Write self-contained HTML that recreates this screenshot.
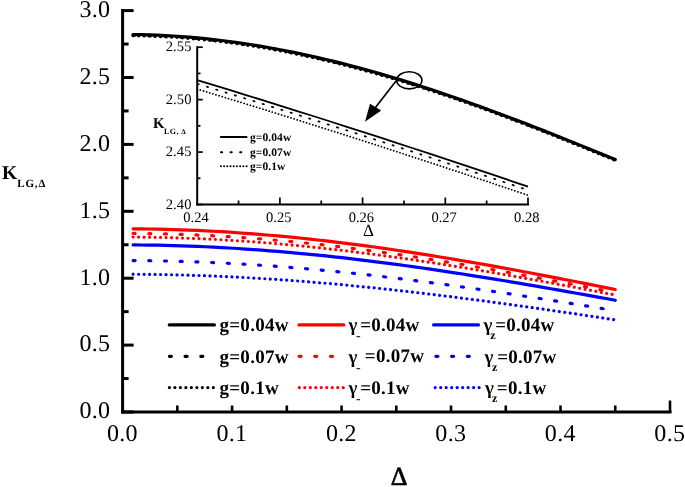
<!DOCTYPE html>
<html lang="en"><head><meta charset="utf-8"><title>K_LG versus Delta</title>
<style>html,body{margin:0;padding:0;background:#fff}body{width:685px;height:487px;overflow:hidden}</style>
</head><body>
<svg width="685" height="487" viewBox="0 0 685 487" style="display:block" text-rendering="geometricPrecision">
<rect width="685" height="487" fill="#fff"/>
<g fill="none" stroke-width="3.2" stroke-linecap="round">
<path d="M133.11,34.49 L141.15,34.63 L149.18,34.86 L157.22,35.17 L165.25,35.55 L173.29,36.02 L181.33,36.57 L189.36,37.20 L197.40,37.90 L205.43,38.69 L213.47,39.55 L221.50,40.49 L229.54,41.51 L237.58,42.61 L245.61,43.78 L253.65,45.02 L261.68,46.34 L269.72,47.73 L277.76,49.20 L285.79,50.73 L293.83,52.34 L301.86,54.02 L309.90,55.76 L317.93,57.57 L325.97,59.45 L334.01,61.39 L342.04,63.40 L350.08,65.47 L358.11,67.60 L366.15,69.80 L374.19,72.05 L382.22,74.36 L390.26,76.72 L398.29,79.14 L406.33,81.61 L414.36,84.14 L422.40,86.71 L430.44,89.34 L438.47,92.01 L446.51,94.72 L454.54,97.49 L462.58,100.29 L470.62,103.14 L478.65,106.02 L486.69,108.94 L494.72,111.90 L502.76,114.90 L510.79,117.92 L518.83,120.98 L526.87,124.07 L534.90,127.19 L542.94,130.33 L550.97,133.50 L559.01,136.69 L567.05,139.91 L575.08,143.14 L583.12,146.39 L591.15,149.66 L599.19,152.94 L607.22,156.24 L615.26,159.55" stroke="#000"/>
<path d="M133.11,35.01 L141.15,35.16 L149.18,35.39 L157.22,35.69 L165.25,36.08 L173.29,36.55 L181.33,37.10 L189.36,37.72 L197.40,38.43 L205.43,39.21 L213.47,40.07 L221.50,41.01 L229.54,42.03 L237.58,43.12 L245.61,44.29 L253.65,45.53 L261.68,46.85 L269.72,48.24 L277.76,49.70 L285.79,51.24 L293.83,52.84 L301.86,54.52 L309.90,56.26 L317.93,58.07 L325.97,59.94 L334.01,61.89 L342.04,63.89 L350.08,65.96 L358.11,68.09 L366.15,70.28 L374.19,72.52 L382.22,74.83 L390.26,77.19 L398.29,79.61 L406.33,82.08 L414.36,84.60 L422.40,87.17 L430.44,89.79 L438.47,92.46 L446.51,95.17 L454.54,97.93 L462.58,100.73 L470.62,103.57 L478.65,106.45 L486.69,109.37 L494.72,112.32 L502.76,115.31 L510.79,118.34 L518.83,121.39 L526.87,124.47 L534.90,127.59 L542.94,130.73 L550.97,133.89 L559.01,137.08 L567.05,140.29 L575.08,143.52 L583.12,146.76 L591.15,150.03 L599.19,153.31 L607.22,156.60 L615.26,159.90" stroke="#000" stroke-dasharray="2 13.7"/>
<path d="M133.11,35.73 L141.15,35.88 L149.18,36.10 L157.22,36.41 L165.25,36.80 L173.29,37.26 L181.33,37.81 L189.36,38.43 L197.40,39.14 L205.43,39.92 L213.47,40.78 L221.50,41.72 L229.54,42.73 L237.58,43.82 L245.61,44.99 L253.65,46.23 L261.68,47.55 L269.72,48.93 L277.76,50.39 L285.79,51.92 L293.83,53.53 L301.86,55.20 L309.90,56.94 L317.93,58.74 L325.97,60.61 L334.01,62.55 L342.04,64.55 L350.08,66.62 L358.11,68.74 L366.15,70.93 L374.19,73.17 L382.22,75.47 L390.26,77.83 L398.29,80.24 L406.33,82.70 L414.36,85.22 L422.40,87.79 L430.44,90.40 L438.47,93.06 L446.51,95.77 L454.54,98.52 L462.58,101.32 L470.62,104.15 L478.65,107.03 L486.69,109.94 L494.72,112.89 L502.76,115.88 L510.79,118.89 L518.83,121.94 L526.87,125.02 L534.90,128.13 L542.94,131.26 L550.97,134.42 L559.01,137.60 L567.05,140.80 L575.08,144.03 L583.12,147.27 L591.15,150.53 L599.19,153.80 L607.22,157.09 L615.26,160.38" stroke="#000" stroke-dasharray="0.01 5.48"/>
<path d="M133.11,228.79 L141.15,228.87 L149.18,228.98 L157.22,229.12 L165.25,229.31 L173.29,229.54 L181.33,229.81 L189.36,230.11 L197.40,230.45 L205.43,230.83 L213.47,231.25 L221.50,231.71 L229.54,232.20 L237.58,232.74 L245.61,233.30 L253.65,233.91 L261.68,234.55 L269.72,235.22 L277.76,235.93 L285.79,236.68 L293.83,237.46 L301.86,238.27 L309.90,239.12 L317.93,240.00 L325.97,240.91 L334.01,241.85 L342.04,242.83 L350.08,243.83 L358.11,244.87 L366.15,245.93 L374.19,247.02 L382.22,248.14 L390.26,249.29 L398.29,250.47 L406.33,251.67 L414.36,252.89 L422.40,254.14 L430.44,255.41 L438.47,256.71 L446.51,258.03 L454.54,259.37 L462.58,260.73 L470.62,262.11 L478.65,263.51 L486.69,264.93 L494.72,266.36 L502.76,267.82 L510.79,269.29 L518.83,270.77 L526.87,272.27 L534.90,273.78 L542.94,275.31 L550.97,276.85 L559.01,278.39 L567.05,279.95 L575.08,281.52 L583.12,283.10 L591.15,284.69 L599.19,286.28 L607.22,287.88 L615.26,289.49" stroke="#f00"/>
<path d="M133.11,233.41 L141.15,233.48 L149.18,233.59 L157.22,233.73 L165.25,233.92 L173.29,234.14 L181.33,234.40 L189.36,234.69 L197.40,235.03 L205.43,235.40 L213.47,235.81 L221.50,236.25 L229.54,236.73 L237.58,237.25 L245.61,237.80 L253.65,238.39 L261.68,239.02 L269.72,239.68 L277.76,240.37 L285.79,241.10 L293.83,241.86 L301.86,242.65 L309.90,243.47 L317.93,244.33 L325.97,245.22 L334.01,246.14 L342.04,247.09 L350.08,248.07 L358.11,249.08 L366.15,250.11 L374.19,251.18 L382.22,252.27 L390.26,253.39 L398.29,254.53 L406.33,255.70 L414.36,256.90 L422.40,258.12 L430.44,259.36 L438.47,260.62 L446.51,261.91 L454.54,263.21 L462.58,264.54 L470.62,265.89 L478.65,267.25 L486.69,268.63 L494.72,270.03 L502.76,271.45 L510.79,272.88 L518.83,274.33 L526.87,275.79 L534.90,277.26 L542.94,278.75 L550.97,280.25 L559.01,281.76 L567.05,283.28 L575.08,284.81 L583.12,286.35 L591.15,287.89 L599.19,289.45 L607.22,291.01 L615.26,292.57" stroke="#f00" stroke-dasharray="2 13.7"/>
<path d="M133.11,237.02 L141.15,237.09 L149.18,237.19 L157.22,237.34 L165.25,237.52 L173.29,237.73 L181.33,237.99 L189.36,238.28 L197.40,238.61 L205.43,238.97 L213.47,239.37 L221.50,239.81 L229.54,240.28 L237.58,240.79 L245.61,241.33 L253.65,241.90 L261.68,242.52 L269.72,243.16 L277.76,243.84 L285.79,244.55 L293.83,245.30 L301.86,246.07 L309.90,246.88 L317.93,247.72 L325.97,248.59 L334.01,249.49 L342.04,250.42 L350.08,251.38 L358.11,252.37 L366.15,253.39 L374.19,254.43 L382.22,255.50 L390.26,256.60 L398.29,257.72 L406.33,258.87 L414.36,260.04 L422.40,261.23 L430.44,262.45 L438.47,263.68 L446.51,264.94 L454.54,266.22 L462.58,267.52 L470.62,268.84 L478.65,270.18 L486.69,271.53 L494.72,272.90 L502.76,274.29 L510.79,275.70 L518.83,277.11 L526.87,278.54 L534.90,279.99 L542.94,281.45 L550.97,282.91 L559.01,284.39 L567.05,285.88 L575.08,287.38 L583.12,288.89 L591.15,290.40 L599.19,291.93 L607.22,293.46 L615.26,294.99" stroke="#f00" stroke-dasharray="0.01 5.48"/>
<path d="M133.11,244.91 L141.15,244.98 L149.18,245.08 L157.22,245.22 L165.25,245.39 L173.29,245.59 L181.33,245.84 L189.36,246.11 L197.40,246.43 L205.43,246.77 L213.47,247.16 L221.50,247.57 L229.54,248.02 L237.58,248.51 L245.61,249.03 L253.65,249.58 L261.68,250.16 L269.72,250.78 L277.76,251.43 L285.79,252.11 L293.83,252.82 L301.86,253.56 L309.90,254.33 L317.93,255.13 L325.97,255.96 L334.01,256.82 L342.04,257.71 L350.08,258.63 L358.11,259.57 L366.15,260.54 L374.19,261.54 L382.22,262.56 L390.26,263.61 L398.29,264.68 L406.33,265.77 L414.36,266.89 L422.40,268.03 L430.44,269.19 L438.47,270.37 L446.51,271.58 L454.54,272.80 L462.58,274.04 L470.62,275.30 L478.65,276.58 L486.69,277.87 L494.72,279.18 L502.76,280.50 L510.79,281.84 L518.83,283.20 L526.87,284.56 L534.90,285.94 L542.94,287.34 L550.97,288.74 L559.01,290.15 L567.05,291.57 L575.08,293.00 L583.12,294.44 L591.15,295.89 L599.19,297.34 L607.22,298.80 L615.26,300.27" stroke="#00f"/>
<path d="M133.11,260.57 L141.15,260.62 L149.18,260.72 L157.22,260.84 L165.25,260.99 L173.29,261.18 L181.33,261.40 L189.36,261.65 L197.40,261.94 L205.43,262.25 L213.47,262.60 L221.50,262.98 L229.54,263.38 L237.58,263.82 L245.61,264.29 L253.65,264.79 L261.68,265.32 L269.72,265.88 L277.76,266.47 L285.79,267.08 L293.83,267.73 L301.86,268.40 L309.90,269.10 L317.93,269.83 L325.97,270.58 L334.01,271.36 L342.04,272.17 L350.08,273.00 L358.11,273.85 L366.15,274.73 L374.19,275.63 L382.22,276.56 L390.26,277.51 L398.29,278.48 L406.33,279.47 L414.36,280.48 L422.40,281.52 L430.44,282.57 L438.47,283.64 L446.51,284.73 L454.54,285.84 L462.58,286.96 L470.62,288.10 L478.65,289.26 L486.69,290.43 L494.72,291.62 L502.76,292.82 L510.79,294.04 L518.83,295.26 L526.87,296.50 L534.90,297.75 L542.94,299.01 L550.97,300.28 L559.01,301.56 L567.05,302.85 L575.08,304.15 L583.12,305.46 L591.15,306.77 L599.19,308.08 L607.22,309.41 L615.26,310.73" stroke="#00f" stroke-dasharray="2 13.7"/>
<path d="M133.11,274.21 L141.15,274.26 L149.18,274.35 L157.22,274.46 L165.25,274.60 L173.29,274.77 L181.33,274.97 L189.36,275.20 L197.40,275.46 L205.43,275.75 L213.47,276.06 L221.50,276.40 L229.54,276.78 L237.58,277.17 L245.61,277.60 L253.65,278.06 L261.68,278.54 L269.72,279.05 L277.76,279.58 L285.79,280.14 L293.83,280.73 L301.86,281.34 L309.90,281.98 L317.93,282.64 L325.97,283.32 L334.01,284.03 L342.04,284.77 L350.08,285.52 L358.11,286.30 L366.15,287.10 L374.19,287.92 L382.22,288.76 L390.26,289.63 L398.29,290.51 L406.33,291.41 L414.36,292.33 L422.40,293.27 L430.44,294.23 L438.47,295.21 L446.51,296.20 L454.54,297.21 L462.58,298.23 L470.62,299.27 L478.65,300.32 L486.69,301.39 L494.72,302.47 L502.76,303.56 L510.79,304.67 L518.83,305.78 L526.87,306.91 L534.90,308.05 L542.94,309.19 L550.97,310.35 L559.01,311.52 L567.05,312.69 L575.08,313.87 L583.12,315.06 L591.15,316.25 L599.19,317.45 L607.22,318.65 L615.26,319.86" stroke="#00f" stroke-dasharray="0.01 5.48"/>
</g>
<g stroke="#000" stroke-width="3" fill="none">
<path d="M122.6,9.1 V413.5"/>
<path d="M121.1,412.0 H671.5"/>
<path d="M122.6,412.00 h11.0"/>
<path d="M122.6,378.55 h6.0"/>
<path d="M122.6,345.10 h11.0"/>
<path d="M122.6,311.65 h6.0"/>
<path d="M122.6,278.20 h11.0"/>
<path d="M122.6,244.75 h6.0"/>
<path d="M122.6,211.30 h11.0"/>
<path d="M122.6,177.85 h6.0"/>
<path d="M122.6,144.40 h11.0"/>
<path d="M122.6,110.95 h6.0"/>
<path d="M122.6,77.50 h11.0"/>
<path d="M122.6,44.05 h6.0"/>
<path d="M122.6,10.60 h11.0"/>
</g>
<g stroke="#000" stroke-width="2.6" fill="none">
<path d="M177.34,412.0 v-6.5"/>
<path d="M232.08,412.0 v-6.5"/>
<path d="M286.82,412.0 v-6.5"/>
<path d="M341.56,412.0 v-6.5"/>
<path d="M396.30,412.0 v-6.5"/>
<path d="M451.04,412.0 v-6.5"/>
<path d="M505.78,412.0 v-6.5"/>
<path d="M560.52,412.0 v-6.5"/>
<path d="M615.26,412.0 v-6.5"/>
<path d="M670.00,412.0 v-11.5"/>
</g>
<g font-family="'Liberation Serif', 'DejaVu Serif', serif" font-size="24" letter-spacing="0.3" fill="#000">
<text x="110.3" y="418.3" text-anchor="end">0.0</text>
<text x="110.3" y="351.4" text-anchor="end">0.5</text>
<text x="110.3" y="284.5" text-anchor="end">1.0</text>
<text x="110.3" y="217.6" text-anchor="end">1.5</text>
<text x="110.3" y="150.7" text-anchor="end">2.0</text>
<text x="110.3" y="83.8" text-anchor="end">2.5</text>
<text x="110.3" y="16.9" text-anchor="end">3.0</text>
<text x="122.4" y="441.2" text-anchor="middle">0.0</text>
<text x="231.9" y="441.2" text-anchor="middle">0.1</text>
<text x="341.4" y="441.2" text-anchor="middle">0.2</text>
<text x="450.8" y="441.2" text-anchor="middle">0.3</text>
<text x="560.3" y="441.2" text-anchor="middle">0.4</text>
<text x="669.8" y="441.2" text-anchor="middle">0.5</text>
</g>
<g font-family="'Liberation Serif', 'DejaVu Serif', serif" font-weight="bold" fill="#000">
<text x="2" y="179.4" font-size="19.5">K<tspan font-size="11" dy="7.6" letter-spacing="0.9">LG,Δ</tspan></text>
<text x="399.0" y="484.8" font-size="26" font-weight="normal" stroke="#000" stroke-width="0.7" text-anchor="middle">Δ</text>
</g>
<g fill="none" stroke-width="3.2" stroke-linecap="round">
<path d="M169.3,324.9 H214.4" stroke="#000"/>
<path d="M169.4,356.3 H202.9" stroke="#000" stroke-dasharray="2 13.7"/>
<path d="M169.4,387.6 H213.60000000000002" stroke="#000" stroke-dasharray="0.01 5.48"/>
<path d="M299.0,324.9 H343.9" stroke="#f00"/>
<path d="M299.1,356.3 H332.6" stroke="#f00" stroke-dasharray="2 13.7"/>
<path d="M299.3,387.6 H343.5" stroke="#f00" stroke-dasharray="0.01 5.48"/>
<path d="M433.6,324.9 H478.5" stroke="#00f"/>
<path d="M435.9,356.3 H469.4" stroke="#00f" stroke-dasharray="2 13.7"/>
<path d="M435.2,387.6 H479.4" stroke="#00f" stroke-dasharray="0.01 5.48"/>
</g>
<g font-family="'Liberation Serif', 'DejaVu Serif', serif" font-weight="bold" font-size="19" letter-spacing="0.27" fill="#000">
<text x="219.5" y="330.8">g=0.04w</text>
<text y="330.8"><tspan x="348.5">γ</tspan><tspan x="356.1" dy="9.1" font-size="14" font-weight="normal">-</tspan><tspan x="360.2" dy="-9.3">=0.04w</tspan></text>
<text y="330.8"><tspan x="483.6">γ</tspan><tspan x="490.3" dy="8" font-size="12">z</tspan><tspan x="495.2" dy="-8">=0.04w</tspan></text>
<text x="219.5" y="362.6">g=0.07w</text>
<text y="362.6"><tspan x="348.5">γ</tspan><tspan x="356.1" dy="9.1" font-size="14" font-weight="normal">-</tspan><tspan x="364.8" dy="-9.3">=0.07w</tspan></text>
<text y="362.6"><tspan x="484.6">γ</tspan><tspan x="492" dy="8" font-size="12">z</tspan><tspan x="497.2" dy="-8">=0.07w</tspan></text>
<text x="219.5" y="393.9">g=0.1w</text>
<text y="393.9"><tspan x="348.5">γ</tspan><tspan x="356.1" dy="9.1" font-size="14" font-weight="normal">-</tspan><tspan x="360.2" dy="-9.3">=0.1w</tspan></text>
<text y="393.9"><tspan x="485">γ</tspan><tspan x="492" dy="8" font-size="12">z</tspan><tspan x="496.8" dy="-8">=0.1w</tspan></text>
</g>
<g fill="none" stroke="#000" stroke-width="1.8">
<path d="M197.20,80.10 L213.74,85.13 L230.28,90.20 L246.82,95.30 L263.36,100.43 L279.90,105.59 L296.44,110.78 L312.98,116.01 L329.52,121.26 L346.06,126.55 L362.60,131.86 L379.14,137.21 L395.68,142.58 L412.22,147.99 L428.76,153.42 L445.30,158.89 L461.84,164.38 L478.38,169.90 L494.92,175.45 L511.46,181.03 L528.00,186.63"/>
<path d="M197.20,83.79 L213.74,88.82 L230.28,93.88 L246.82,98.97 L263.36,104.10 L279.90,109.25 L296.44,114.44 L312.98,119.65 L329.52,124.90 L346.06,130.18 L362.60,135.49 L379.14,140.83 L395.68,146.19 L412.22,151.59 L428.76,157.02 L445.30,162.47 L461.84,167.96 L478.38,173.47 L494.92,179.01 L511.46,184.58 L528.00,190.18" stroke-dasharray="1.2 8.53" stroke-dashoffset="-0.4" stroke-linecap="round"/>
<path d="M197.20,89.08 L213.74,94.09 L230.28,99.14 L246.82,104.23 L263.36,109.34 L279.90,114.48 L296.44,119.66 L312.98,124.87 L329.52,130.10 L346.06,135.37 L362.60,140.67 L379.14,145.99 L395.68,151.35 L412.22,156.74 L428.76,162.15 L445.30,167.60 L461.84,173.07 L478.38,178.57 L494.92,184.10 L511.46,189.66 L528.00,195.25" stroke-dasharray="0.01 3.26" stroke-linecap="round"/>
</g>
<g fill="none" stroke="#000" stroke-width="2">
<path d="M197.2,46.2 V205.5"/>
<path d="M196.2,204.5 H529.0"/>
</g>
<g fill="none" stroke="#000" stroke-width="1.7">
<path d="M197.2,204.50 h5.6"/>
<path d="M197.2,178.28 h3.3"/>
<path d="M197.2,152.07 h5.6"/>
<path d="M197.2,125.85 h3.3"/>
<path d="M197.2,99.63 h5.6"/>
<path d="M197.2,73.42 h3.3"/>
<path d="M197.2,47.20 h5.6"/>
<path d="M238.55,204.5 v-4"/>
<path d="M279.90,204.5 v-7"/>
<path d="M321.25,204.5 v-4"/>
<path d="M362.60,204.5 v-7"/>
<path d="M403.95,204.5 v-4"/>
<path d="M445.30,204.5 v-7"/>
<path d="M486.65,204.5 v-4"/>
<path d="M528.00,204.5 v-7"/>
</g>
<g font-family="'Liberation Serif', 'DejaVu Serif', serif" font-size="14.5" fill="#000">
<text x="191.5" y="208.5" letter-spacing="0.12" text-anchor="end">2.40</text>
<text x="191.5" y="156.1" letter-spacing="0.12" text-anchor="end">2.45</text>
<text x="191.5" y="103.6" letter-spacing="0.12" text-anchor="end">2.50</text>
<text x="191.5" y="51.2" letter-spacing="0.12" text-anchor="end">2.55</text>
<text x="196.0" y="221.8" text-anchor="middle">0.24</text>
<text x="278.7" y="221.8" text-anchor="middle">0.25</text>
<text x="361.4" y="221.8" text-anchor="middle">0.26</text>
<text x="444.1" y="221.8" text-anchor="middle">0.27</text>
<text x="526.8" y="221.8" text-anchor="middle">0.28</text>
</g>
<g font-family="'Liberation Serif', 'DejaVu Serif', serif" font-weight="bold" fill="#000">
<text x="153" y="128.4" font-size="14.8">K<tspan font-size="8" dy="5.4" dx="-0.4" letter-spacing="0.4">LG, </tspan><tspan font-size="7.2">Δ</tspan></text>
<text x="368.4" y="235.5" font-size="17" font-weight="normal" text-anchor="middle">Δ</text>
</g>
<g fill="none" stroke="#000" stroke-width="2" stroke-linecap="round">
<path d="M220.9,137.1 H246.5"/>
<path d="M220.9,152.2 H246.5" stroke-dasharray="1.2 8.4" stroke-linecap="round"/>
<path d="M220.9,166.3 H246.7" stroke-dasharray="0.01 3.2" stroke-linecap="round"/>
</g>
<g font-family="'Liberation Serif', 'DejaVu Serif', serif" font-weight="bold" font-size="11.5" fill="#000">
<text x="250" y="141.0" letter-spacing="0.08">g=0.04w</text>
<text x="250" y="156.1" letter-spacing="0.08">g=0.07w</text>
<text x="250" y="170.2" letter-spacing="0.08">g=0.1w</text>
</g>
<ellipse cx="409.3" cy="80.3" rx="12.6" ry="8.6" fill="none" stroke="#000" stroke-width="1.6"/>
<path d="M396,81 L372,112" stroke="#000" stroke-width="1.7" fill="none"/>
<path d="M365,121.8 L370,103.7 L381.2,110.6 Z" fill="#000"/>
</svg>
</body></html>
